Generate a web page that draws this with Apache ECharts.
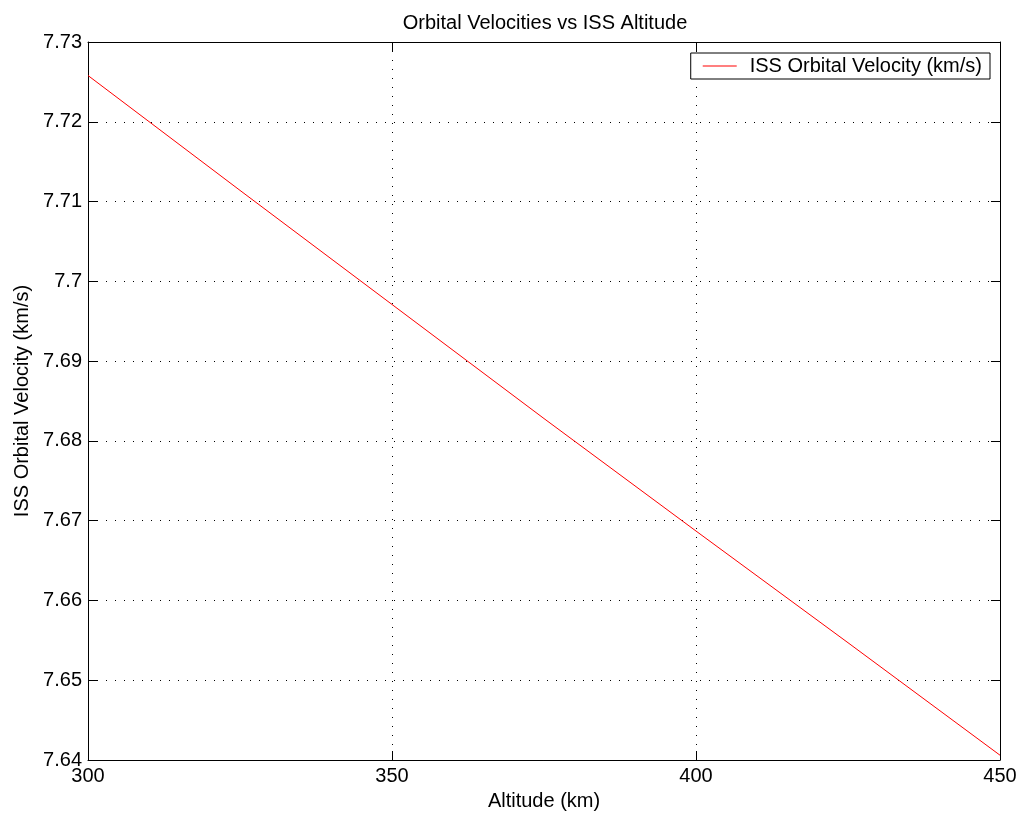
<!DOCTYPE html>
<html>
<head>
<meta charset="utf-8">
<title>Orbital Velocities vs ISS Altitude</title>
<script src="https://cdn.jsdelivr.net/npm/echarts@6/dist/echarts.min.js"></script>
<style>
  html, body { margin: 0; padding: 0; background: #fff; }
  #chart { width: 1020px; height: 813px; }
</style>
</head>
<body>
<div id="chart"></div>
<script>
// altitude (km) and orbital velocity (km/s)
var altitude = [300, 325, 350, 375, 400, 425, 450];
var velocity = [7.7258, 7.7114, 7.6971, 7.6828, 7.6687, 7.6547, 7.6406];
var seriesName = 'ISS Orbital Velocity (km/s)';

var font = '"Liberation Sans", Arial, sans-serif';
var points = altitude.map(function (a, i) { return [a, velocity[i]]; });

var myChart = echarts.init(document.getElementById('chart'));

var dotted = { show: true, lineStyle: { color: '#000', width: 1, type: [1, 8] } };
var tickIn = { show: true, inside: true, length: 9, lineStyle: { color: '#000' } };
var axLine = { show: true, lineStyle: { color: '#000', width: 1 } };

myChart.setOption({
  animation: false,
  backgroundColor: '#fff',
  title: {
    text: 'Orbital Velocities vs ISS Altitude',
    left: 540,
    textAlign: 'center',
    top: 8,
    textStyle: { fontFamily: font, fontSize: 20, fontWeight: 'normal', color: '#000' }
  },
  grid: { left: 88, right: 20, top: 42, bottom: 53, outerBoundsMode: 'none' },
  legend: {
    data: [{ name: seriesName, icon: 'rect' }],
    right: 30,
    top: 53,
    itemWidth: 34,
    itemHeight: 1,
    padding: [3, 8, 3, 12],
    borderColor: '#000',
    borderWidth: 1,
    borderRadius: 0,
    backgroundColor: '#fff',
    itemStyle: { color: '#ff0000' },
    textStyle: { fontFamily: font, fontSize: 20, color: '#000', padding: [0, 0, 0, 8] }
  },
  xAxis: [{
    type: 'value', min: 300, max: 450, interval: 50,
    name: 'Altitude (km)', nameLocation: 'middle', nameGap: 31,
    nameTextStyle: { fontFamily: font, fontSize: 20, color: '#000' },
    axisLine: axLine, axisTick: tickIn, splitLine: dotted,
    axisLabel: { fontFamily: font, fontSize: 20, color: '#000', margin: 6 }
  }, {
    type: 'value', min: 300, max: 450, interval: 50, position: 'top',
    axisLine: axLine, axisTick: tickIn, splitLine: { show: false }, axisLabel: { show: false }
  }],
  yAxis: [{
    type: 'value', min: 7.64, max: 7.73, interval: 0.01,
    name: 'ISS Orbital Velocity (km/s)', nameLocation: 'middle', nameGap: 55,
    nameTextStyle: { fontFamily: font, fontSize: 20, color: '#000' },
    axisLine: axLine, axisTick: tickIn, splitLine: dotted,
    axisLabel: {
      fontFamily: font, fontSize: 20, color: '#000', margin: 6,
      formatter: function (v) { return String(parseFloat(v.toFixed(2))); }
    }
  }, {
    type: 'value', min: 7.64, max: 7.73, interval: 0.01, position: 'right',
    axisLine: axLine, axisTick: tickIn, splitLine: { show: false }, axisLabel: { show: false }
  }],
  series: [{
    name: seriesName,
    type: 'line',
    data: points,
    symbol: 'none',
    lineStyle: { color: '#ff0000', width: 1 },
    itemStyle: { color: '#ff0000' }
  }]
});
</script>
</body>
</html>
